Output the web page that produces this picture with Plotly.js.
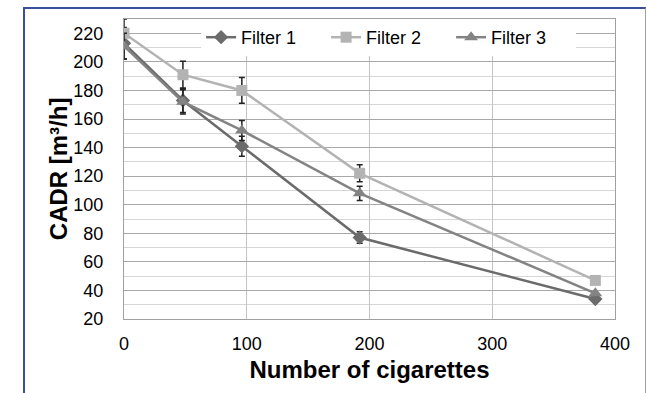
<!DOCTYPE html>
<html><head><meta charset="utf-8">
<script src="https://cdn.plot.ly/plotly-3.0.1.min.js"></script>
<style>html,body{margin:0;padding:0;background:#fff;}#wrap{position:relative;width:647px;height:393px;}
#chart{position:absolute;left:0;top:0;width:647px;height:393px;}
#frame{position:absolute;left:23px;top:7px;width:620px;height:390px;border-left:2px solid #3a4ea0;border-top:2px solid #3a4ea0;border-right:1px solid #a0a0a0;pointer-events:none;}
</style></head>
<body><div id="wrap"><div id="chart"></div><div id="frame"></div></div>
<script>
const cigarettes = [0, 48, 96, 192, 384];
const filter1 = [213, 173, 141, 77, 34];
const filter1Err = [11, 8.5, 7, 4, 0];
const filter2 = [220, 191, 180, 122, 47];
const filter2Err = [10, 9.5, 9, 6, 0];
const filter3 = [211, 172, 152, 108, 38];
const filter3Err = [9, 8.5, 7, 5, 0];
const seriesNames = ['Filter 1', 'Filter 2', 'Filter 3'];
const yTicks = [20, 40, 60, 80, 100, 120, 140, 160, 180, 200, 220];
const xTicks = [0, 100, 200, 300, 400];
const yTitle = 'CADR [m³/h]';
const xTitle = 'Number of cigarettes';

function tr(name, y, err, color, symbol, size) {
  return {
    x: cigarettes, y: y, name: name, type: 'scatter', mode: 'lines+markers',
    line: {color: color, width: 2.5},
    marker: {symbol: symbol, size: size, color: color},
    error_y: {type: 'data', array: err, visible: true, color: '#222', thickness: 1.5, width: 3}
  };
}
const data = [
  tr(seriesNames[0], filter1, filter1Err, '#6b6b6b', 'diamond', 11),
  tr(seriesNames[1], filter2, filter2Err, '#b3b3b3', 'square', 11),
  tr(seriesNames[2], filter3, filter3Err, '#838383', 'triangle-up', 12)
];
const layout = {
  width: 647, height: 393,
  margin: {l: 124, r: 32, t: 19, b: 74},
  paper_bgcolor: '#fff', plot_bgcolor: '#fff',
  font: {family: 'Liberation Sans, Arial, sans-serif', color: '#000', size: 18},
  showlegend: true,
  legend: {orientation: 'h', x: 0.157, y: 1.0, xanchor: 'left', yanchor: 'top',
    bgcolor: '#fff', font: {size: 18}, entrywidth: 80, entrywidthmode: 'pixels', itemwidth: 30},
  xaxis: {range: [0, 400], tickvals: xTicks, ticktext: xTicks.map(String),
    showgrid: true, gridcolor: '#c4c4c4', gridwidth: 1,
    showline: true, linecolor: '#a0a0a0', mirror: true, zeroline: false,
    ticks: '', ticklabelstandoff: 8, tickfont: {size: 18},
    title: {text: xTitle, font: {size: 24, weight: 'bold'}, standoff: 8}},
  yaxis: {range: [20, 230], tickvals: yTicks, ticktext: yTicks.map(String),
    showgrid: true, gridcolor: '#a8a8a8', gridwidth: 1,
    minor: {dtick: 10, tick0: 10, showgrid: true, gridcolor: '#d6d6d6', gridwidth: 1},
    showline: true, linecolor: '#a0a0a0', mirror: true, zeroline: false,
    ticks: '', ticklabelstandoff: 16, tickfont: {size: 18}},
  annotations: [{text: yTitle, xref: 'paper', yref: 'paper', x: -0.134, y: 0.5,
    xanchor: 'center', yanchor: 'middle', textangle: -90, showarrow: false,
    font: {size: 24, weight: 'bold', color: '#000'}}]
};
Plotly.newPlot('chart', data, layout, {displayModeBar: false, staticPlot: true});
</script></body></html>
